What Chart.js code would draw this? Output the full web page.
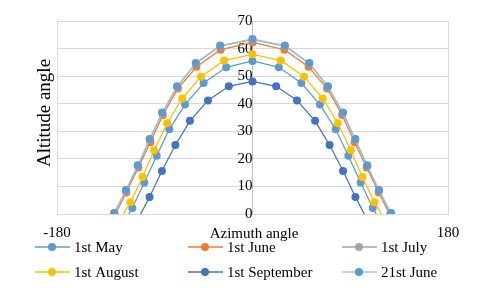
<!DOCTYPE html>
<html>
<head>
<meta charset="utf-8">
<script src="https://cdn.jsdelivr.net/npm/chart.js@4.4.0/dist/chart.umd.min.js"></script>
<style>
  html, body { margin: 0; padding: 0; background: #fff; }
  #wrap { width: 480px; height: 303px; }
</style>
</head>
<body>
<div id="wrap"><canvas id="sunChart" width="480" height="303"></canvas></div>
<script>
const seriesLabels = ['1st May', '1st June', '1st July', '1st August', '1st September', '21st June'];

const mayAz = [-122.7, -110.7, -99.6, -88.2, -76.6, -62.1, -45.0, -24.2, 0, 24.2, 45.0, 62.1, 76.6, 88.2, 99.6, 110.7, 122.7];
const mayAlt = [-6.2, 2.2, 11.4, 21.1, 30.7, 39.7, 47.5, 53.2, 55.5, 53.2, 47.5, 39.7, 30.7, 21.1, 11.4, 2.2, -6.2];

const juneAz = [-126.6, -116.2, -105.1, -94.0, -82.5, -68.6, -51.6, -29.3, 0, 29.3, 51.6, 68.6, 82.5, 94.0, 105.1, 116.2, 126.6];
const juneAlt = [-0.4, 7.8, 16.9, 26.0, 35.9, 45.5, 53.4, 59.6, 62.2, 59.6, 53.4, 45.5, 35.9, 26.0, 16.9, 7.8, -0.4];

const julyAz = [-127.2, -116.3, -105.5, -94.5, -83.1, -69.3, -52.1, -29.6, 0, 29.6, 52.1, 69.3, 83.1, 94.5, 105.5, 116.3, 127.2];
const julyAlt = [0.2, 8.5, 17.5, 27.0, 36.6, 46.1, 54.6, 60.9, 63.2, 60.9, 54.6, 46.1, 36.6, 27.0, 17.5, 8.5, 0.2];

const augAz = [-124.4, -112.3, -101.2, -90.5, -78.5, -64.7, -47.5, -26.1, 0, 26.1, 47.5, 64.7, 78.5, 90.5, 101.2, 112.3, 124.4];
const augAlt = [-3.7, 4.3, 13.4, 23.1, 32.9, 41.9, 49.8, 55.7, 57.9, 55.7, 49.8, 41.9, 32.9, 23.1, 13.4, 4.3, -3.7];

const sepAz = [-106.8, -94.8, -83.4, -71.0, -57.6, -41.0, -21.8, 0, 21.8, 41.0, 57.6, 71.0, 83.4, 94.8, 106.8];
const sepAlt = [-3.0, 6.2, 15.6, 25.0, 33.8, 41.2, 46.3, 48.1, 46.3, 41.2, 33.8, 25.0, 15.6, 6.2, -3.0];

const solsticeAz = [-127.5, -116.5, -105.7, -94.7, -83.3, -69.5, -52.3, -29.8, 0, 29.8, 52.3, 69.5, 83.3, 94.7, 105.7, 116.5, 127.5];
const solsticeAlt = [0.4, 8.7, 17.7, 27.2, 36.8, 46.3, 54.8, 61.1, 63.5, 61.1, 54.8, 46.3, 36.8, 27.2, 17.7, 8.7, 0.4];

const xTicks = [-180, 180];
const yMin = 0, yMax = 70, yStep = 10;

const lineColors = ['#5B9BD5', '#ED7D31', '#A5A5A5', '#FFC000', '#4472C4', '#9DC3E6'];
const markerColors = ['#5B9BD5', '#ED7D31', '#A5A5A5', '#FFC000', '#4472C4', '#5B9BD5'];

const FONT = "'Liberation Serif', 'Times New Roman', serif";

function toPoints(az, alt) {
    return az.map((x, i) => ({ x: x, y: alt[i] }));
}

const allSeries = [
    [mayAz, mayAlt], [juneAz, juneAlt], [julyAz, julyAlt],
    [augAz, augAlt], [sepAz, sepAlt], [solsticeAz, solsticeAlt]
];

const datasets = allSeries.map((s, i) => ({
    label: seriesLabels[i],
    data: toPoints(s[0], s[1]),
    showLine: true,
    borderColor: lineColors[i],
    backgroundColor: markerColors[i],
    pointBackgroundColor: markerColors[i],
    pointBorderColor: markerColors[i],
    borderWidth: 1.25,
    pointRadius: 4,
    pointBorderWidth: 0,
    tension: 0,
    // excel draws the first series at the bottom
    order: allSeries.length - i
}));

// axis titles + excel style legend (fixed grid of 3 columns)
const extrasPlugin = {
    id: 'extras',
    afterDraw(chart) {
        const ctx = chart.ctx;
        ctx.save();
        ctx.fillStyle = '#000';

        ctx.font = '19px ' + FONT;
        ctx.textAlign = 'center';
        ctx.textBaseline = 'middle';
        ctx.translate(45, 113);
        ctx.rotate(-Math.PI / 2);
        ctx.fillText('Altitude angle', 0, 0);
        ctx.setTransform(1, 0, 0, 1, 0, 0);

        ctx.font = '15px ' + FONT;
        ctx.fillText('Azimuth angle', 254, 234);

        const colX = [35, 188, 342];
        const rowY = [247, 272];
        ctx.textAlign = 'left';
        chart.data.datasets.forEach((ds, i) => {
            const x0 = colX[i % 3];
            const y0 = rowY[Math.floor(i / 3)];
            ctx.strokeStyle = ds.borderColor;
            ctx.lineWidth = 1.5;
            ctx.beginPath();
            ctx.moveTo(x0, y0);
            ctx.lineTo(x0 + 35, y0);
            ctx.stroke();
            ctx.fillStyle = ds.pointBackgroundColor;
            ctx.beginPath();
            ctx.arc(x0 + 17, y0, 4, 0, Math.PI * 2);
            ctx.fill();
            ctx.fillStyle = '#000';
            ctx.fillText(ds.label, x0 + 39, y0 + 1);
        });
        ctx.restore();
    }
};

new Chart(document.getElementById('sunChart'), {
    type: 'scatter',
    data: { datasets: datasets },
    options: {
        responsive: false,
        animation: false,
        layout: { padding: { left: 57, right: 32, top: 13, bottom: 89 } },
        plugins: {
            legend: { display: false },
            tooltip: { enabled: false }
        },
        scales: {
            x: {
                type: 'linear',
                position: { y: 0 },
                min: -180,
                max: 180,
                afterBuildTicks: (axis) => { axis.ticks = xTicks.map(v => ({ value: v })); },
                grid: { color: '#D9D9D9', lineWidth: 1, drawTicks: false },
                border: { display: true, color: '#D9D9D9', width: 1 },
                ticks: {
                    color: '#000',
                    font: { family: FONT, size: 15 },
                    padding: 10,
                    maxRotation: 0,
                    autoSkip: false
                }
            },
            y: {
                type: 'linear',
                position: { x: 0 },
                min: yMin,
                max: yMax,
                grid: { color: '#D9D9D9', lineWidth: 1, drawTicks: false },
                border: { display: true, color: '#BFBFBF', width: 1 },
                ticks: {
                    stepSize: yStep,
                    color: '#000',
                    font: { family: FONT, size: 15 },
                    padding: 12
                }
            }
        }
    },
    plugins: [extrasPlugin]
});
</script>
</body>
</html>
